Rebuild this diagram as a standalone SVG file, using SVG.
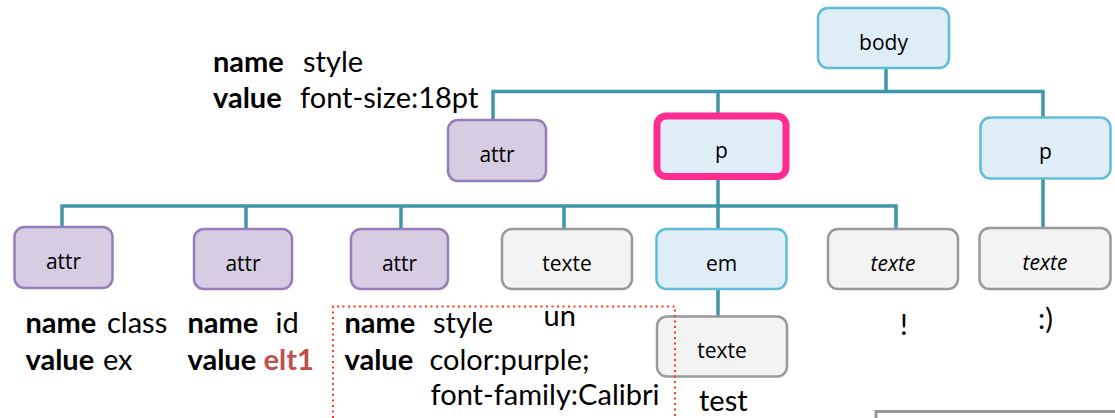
<svg xmlns="http://www.w3.org/2000/svg" width="1115" height="418" viewBox="0 0 1115 418">
<style>
.conn{fill:none;stroke:#3f96a9;stroke-width:3.5;stroke-linejoin:miter}
.blue{fill:#dfeef6;stroke:#5fbdd6;stroke-width:2.5}
.purple{fill:#d7cde2;stroke:#977dbb;stroke-width:2.5}
.gray{fill:#f3f3f3;stroke:#999;stroke-width:2.5}
.pink{fill:#dfeef6;stroke:#ff2d8f;stroke-width:7}
.lbl{font-family:"Open Sans","Noto Sans",sans-serif;font-size:21px;fill:#000;text-anchor:middle}
.it{font-style:italic}
.ann{font-family:Lato,"Liberation Sans",sans-serif;font-size:29px;fill:#000}
.b{font-weight:bold}
.red{fill:#c0504d;font-weight:bold}
</style>
<rect width="1115" height="418" fill="#fff"/>
<g id="connectors">
<path class="conn" d="M886,68 V91.5"/>
<path class="conn" d="M493,119 V91.5 H1043 V117"/>
<path class="conn" d="M718,91.5 V113"/>
<path class="conn" d="M718,180 V229"/>
<path class="conn" d="M718,289 V316"/>
<path class="conn" d="M62,227 V206 H896 V229"/>
<path class="conn" d="M246,206 V229"/>
<path class="conn" d="M401,206 V229"/>
<path class="conn" d="M564,206 V229"/>
<path class="conn" d="M1043,178 V228"/>
</g>
<g id="body"><rect class="blue" x="818" y="8" width="131" height="60" rx="10"/><text class="lbl" x="883.5" y="50">body</text></g>
<g id="attr-top"><rect class="purple" x="448" y="120" width="98" height="61" rx="10"/><text class="lbl" x="497" y="162">attr</text></g>
<g id="p1"><rect class="pink" x="657" y="116" width="129" height="60.5" rx="9"/><text class="lbl" x="721.5" y="158">p</text></g>
<g id="p2"><rect class="blue" x="980.5" y="117.5" width="130" height="61" rx="10"/><text class="lbl" x="1045.5" y="159">p</text></g>
<g id="attr1"><rect class="purple" x="14.5" y="227" width="98" height="61" rx="10"/><text class="lbl" x="63.5" y="268.5">attr</text></g>
<g id="attr2"><rect class="purple" x="194" y="229" width="98" height="60" rx="10"/><text class="lbl" x="243" y="270.5">attr</text></g>
<g id="attr3"><rect class="purple" x="351" y="229" width="97" height="60" rx="10"/><text class="lbl" x="399.5" y="270.5">attr</text></g>
<g id="texte1"><rect class="gray" x="502" y="229" width="130" height="60" rx="10"/><text class="lbl" x="567" y="270.5">texte</text></g>
<g id="em"><rect class="blue" x="656.5" y="229" width="130" height="60" rx="10"/><text class="lbl" x="721.5" y="270.5">em</text></g>
<g id="texte2"><rect class="gray" x="828" y="229" width="130" height="60" rx="10"/><text class="lbl it" x="893" y="270.5">texte</text></g>
<g id="texte3"><rect class="gray" x="979.5" y="228" width="131" height="61" rx="10"/><text class="lbl it" x="1045" y="270">texte</text></g>
<g id="texte-em"><rect class="gray" x="657" y="316.5" width="130" height="60" rx="10"/><text class="lbl" x="722" y="358">texte</text></g>
<g id="annotations">
<text class="ann"><tspan class="b" x="213" y="71.5">name</tspan><tspan x="303" y="71.5">style</tspan></text>
<text class="ann"><tspan class="b" x="213" y="108">value</tspan><tspan x="300" y="108">font-size:18pt</tspan></text>
<text class="ann"><tspan class="b" x="25.5" y="333">name</tspan><tspan x="107" y="333">class</tspan></text>
<text class="ann"><tspan class="b" x="25.5" y="369.5">value</tspan><tspan x="103" y="369.5">ex</tspan></text>
<text class="ann"><tspan class="b" x="187.5" y="333">name</tspan><tspan x="275.5" y="333">id</tspan></text>
<text class="ann"><tspan class="b" x="187.5" y="369.5">value</tspan><tspan class="red" x="263.5" y="369.5">elt1</tspan></text>
<text class="ann"><tspan class="b" x="344.5" y="333">name</tspan><tspan x="433" y="333">style</tspan></text>
<text class="ann"><tspan class="b" x="344.5" y="369.5">value</tspan><tspan x="429.5" y="369.5">color:purple;</tspan></text>
<text class="ann" x="430.5" y="405">font-family:Calibri</text>
<text class="ann" x="543.5" y="326">un</text>
<text class="ann" x="699" y="411">test</text>
<text class="ann" x="900" y="335">!</text>
<text class="ann" x="1038" y="329">:)</text>
</g>
<path d="M333,418 V306.5 H675 V418" fill="none" stroke="#ff3b1f" stroke-width="2" stroke-dasharray="2 3.5"/>
<rect x="876" y="411.5" width="260" height="30" fill="#fff" stroke="#999" stroke-width="3"/>
</svg>
